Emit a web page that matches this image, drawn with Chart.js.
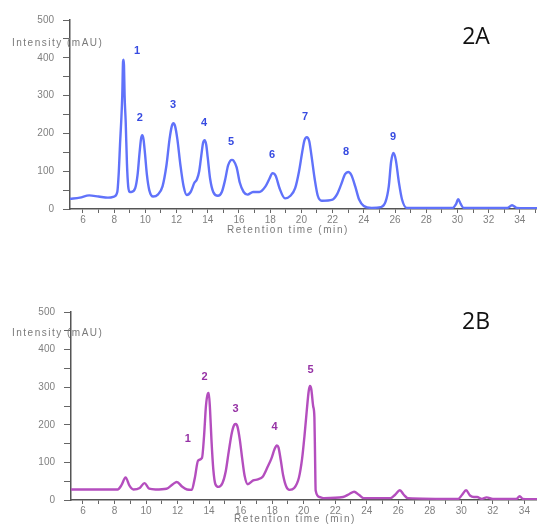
<!DOCTYPE html>
<html>
<head>
<meta charset="utf-8">
<script src="https://cdn.jsdelivr.net/npm/chart.js@4/dist/chart.umd.min.js"></script>
<style>
  html, body { margin: 0; padding: 0; background: #fff; }
  #wrap { position: relative; width: 537px; height: 524px; overflow: hidden; }
  .box { position: absolute; left: 0; width: 537px; height: 262px; }
  #boxA { top: 0; }
  #boxB { top: 262px; }
</style>
</head>
<body>
<div id="wrap">
  <div class="box" id="boxA"><canvas id="chartA" width="537" height="262"></canvas></div>
  <div class="box" id="boxB"><canvas id="chartB" width="537" height="262"></canvas></div>
</div>
<script>
// ---- Data (retention time in min, intensity in mAU) ----
const topTimes = [5.17,5.8,6.4,7.0,7.6,8.0,8.2,8.3,8.38,8.45,8.52,8.57,8.6,8.63,8.67,8.74,8.82,8.9,9.0,9.1,9.35,9.5,9.62,9.72,9.8,9.88,9.98,10.1,10.25,10.5,10.8,11.1,11.35,11.55,11.7,11.8,11.9,12.05,12.25,12.45,12.65,12.9,13.15,13.3,13.45,13.58,13.7,13.8,13.9,14.0,14.15,14.35,14.65,14.9,15.1,15.3,15.45,15.55,15.65,15.85,16.05,16.3,16.55,16.9,17.3,17.7,17.95,18.15,18.35,18.6,18.95,19.3,19.6,19.85,20.05,20.2,20.35,20.5,20.65,20.85,21.05,21.3,22.0,22.3,22.55,22.8,23.0,23.2,23.45,23.7,24.0,24.5,25.1,25.4,25.6,25.75,25.9,26.05,26.25,26.45,26.75,29.7,29.9,30.05,30.2,30.4,33.2,33.5,33.8,35.1];
const topIntensity = [27,30,36,33,30,33,45,100,175,230,300,390,395,380,300,230,120,60,45,45,55,90,145,185,195,185,145,90,50,33,38,60,115,185,220,227,220,185,115,60,37,45,70,78,100,140,175,182,170,135,80,45,35,45,75,115,128,130,128,110,70,45,38,45,45,60,80,95,88,55,28,35,55,100,150,182,190,180,140,80,35,22,25,40,65,92,98,90,60,25,8,3,5,20,60,125,148,130,70,25,3,3,12,26,14,3,3,10,3,2];

const bottomTimes = [5.24,8.2,8.45,8.7,8.95,9.2,9.6,9.9,10.2,10.6,11.3,11.7,11.95,12.3,12.6,12.9,13.1,13.3,13.55,13.68,13.8,13.92,13.98,14.06,14.15,14.27,14.4,14.6,14.85,15.05,15.25,15.45,15.6,15.7,15.8,15.95,16.1,16.25,16.45,16.8,17.1,17.4,17.7,17.95,18.15,18.3,18.4,18.55,18.7,18.9,19.1,19.4,19.7,19.9,20.05,20.2,20.32,20.4,20.48,20.6,20.68,20.72,20.76,21.0,21.3,22.5,22.9,23.2,23.5,23.8,25.5,25.8,26.1,26.35,26.6,29.8,30.05,30.3,30.55,30.8,31.0,31.3,31.6,32.0,33.5,33.7,33.9,34.8];
const bottomIntensity = [28,28,40,60,38,28,32,45,30,28,30,42,48,35,28,27,60,105,112,170,250,283,285,240,160,80,42,35,45,75,130,180,200,202,195,160,110,65,42,52,55,62,87,110,135,145,140,105,65,35,27,32,60,110,170,240,290,303,295,250,220,120,25,8,5,8,16,22,14,5,5,14,26,14,5,3,14,26,12,8,8,3,7,3,3,10,3,2];

const topPeakLabels = ['1','2','3','4','5','6','7','8','9'];
const topPeakLabelTimes = [9.46,9.65,11.77,13.76,15.49,18.12,20.23,22.86,25.87];
const topPeakLabelHeights = [418,241,275,228,177,143,243,151,190];

const bottomPeakLabels = ['1','2','3','4','5'];
const bottomPeakLabelTimes = [12.65,13.72,15.68,18.15,20.43];
const bottomPeakLabelHeights = [163,326,242,195,345];

const yTickValues = [0,50,100,150,200,250,300,350,400,450,500];
const xTickValues = [6,7,8,9,10,11,12,13,14,15,16,17,18,19,20,21,22,23,24,25,26,27,28,29,30,31,32,33,34,35];

const yTitle = 'Intensity (mAU)';
const xTitle = 'Retention time (min)';

function makeChart(canvasId, opts) {
  const pts = opts.times.map((t, i) => ({ x: t, y: opts.values[i] }));
  const labelPlugin = {
    id: 'labels_' + canvasId,
    afterDraw(chart) {
      const ctx = chart.ctx;
      const xs = chart.scales.x, ys = chart.scales.y;
      ctx.save();
      ctx.textAlign = 'center';
      ctx.textBaseline = 'middle';
      ctx.fillStyle = opts.labelColor;
      ctx.font = 'bold 11px "Liberation Sans", Arial, sans-serif';
      opts.peakLabels.forEach((lab, i) => {
        ctx.fillText(lab, xs.getPixelForValue(opts.peakTimes[i]), ys.getPixelForValue(opts.peakHeights[i]));
      });
      // y title (horizontal, overlapping the axis as in the reference)
      ctx.fillStyle = '#7a7a7a';
      ctx.font = '10px "Liberation Sans", Arial, sans-serif';
      ctx.letterSpacing = '1.5px';
      ctx.textAlign = 'left';
      ctx.fillText(yTitle, 12, opts.yTitleY);
      // x title
      ctx.textAlign = 'center';
      ctx.letterSpacing = '1.6px';
      ctx.fillText(xTitle, opts.xTitleX, opts.xTitleY);
      ctx.letterSpacing = '0px';
      // panel tag
      ctx.fillStyle = '#111';
      ctx.font = '23px "Open Sans", "DejaVu Sans", sans-serif';
      ctx.fillText(opts.tag, 476, opts.tagY);
      ctx.restore();
    }
  };
  return new Chart(document.getElementById(canvasId), {
    type: 'scatter',
    data: {
      datasets: [{
        data: pts,
        showLine: true,
        borderColor: opts.lineColor,
        borderWidth: 2.4,
        pointRadius: 0,
        cubicInterpolationMode: 'monotone',
        fill: false
      }]
    },
    options: {
      responsive: false,
      animation: false,
      layout: { padding: { top: opts.padTop, left: 0, right: 0, bottom: 0 } },
      plugins: { legend: { display: false }, tooltip: { enabled: false } },
      scales: {
        x: {
          type: 'linear',
          min: opts.xMin, max: opts.xMax,
          afterBuildTicks: (s) => { s.ticks = xTickValues.filter(v => v >= opts.xMin && v <= opts.xMax).map(v => ({ value: v })); },
          afterFit: (s) => { s.height = opts.xAxisHeight; },
          ticks: {
            autoSkip: false, maxRotation: 0, padding: 1,
            color: '#808080',
            font: { family: '"Liberation Sans", Arial, sans-serif', size: 10 },
            callback: (v) => (v % 2 === 0 ? String(v) : '')
          },
          grid: { display: true, drawOnChartArea: false, drawTicks: true, tickLength: 4, color: '#666', lineWidth: 1 },
          border: { display: true, color: '#555', width: 1.5 }
        },
        y: {
          type: 'linear',
          min: 0, max: 500,
          afterBuildTicks: (s) => { s.ticks = yTickValues.map(v => ({ value: v })); },
          afterFit: (s) => { s.width = opts.yAxisWidth; },
          ticks: {
            autoSkip: false, padding: 9,
            color: '#808080',
            font: { family: '"Liberation Sans", Arial, sans-serif', size: 10 },
            callback: (v) => (v % 100 === 0 ? String(v) : '')
          },
          grid: { display: true, drawOnChartArea: false, drawTicks: true, tickLength: 7, color: '#666', lineWidth: 1 },
          border: { display: true, color: '#555', width: 1.5 }
        }
      }
    },
    plugins: [labelPlugin]
  });
}

makeChart('chartA', {
  times: topTimes, values: topIntensity,
  lineColor: 'rgb(96,114,250)', labelColor: 'rgb(55,75,225)',
  peakLabels: topPeakLabels, peakTimes: topPeakLabelTimes, peakHeights: topPeakLabelHeights,
  xMin: 5.17, xMax: 35.1, padTop: 20, xAxisHeight: 53, yAxisWidth: 70,
  yTitleY: 43, xTitleX: 288, xTitleY: 230, tag: '2A', tagY: 37
});

makeChart('chartB', {
  times: bottomTimes, values: bottomIntensity,
  lineColor: 'rgb(180,78,190)', labelColor: 'rgb(150,50,165)',
  peakLabels: bottomPeakLabels, peakTimes: bottomPeakLabelTimes, peakHeights: bottomPeakLabelHeights,
  xMin: 5.24, xMax: 34.8, padTop: 50, xAxisHeight: 24, yAxisWidth: 71,
  yTitleY: 71, xTitleX: 295, xTitleY: 257, tag: '2B', tagY: 60
});
</script>
</body>
</html>
